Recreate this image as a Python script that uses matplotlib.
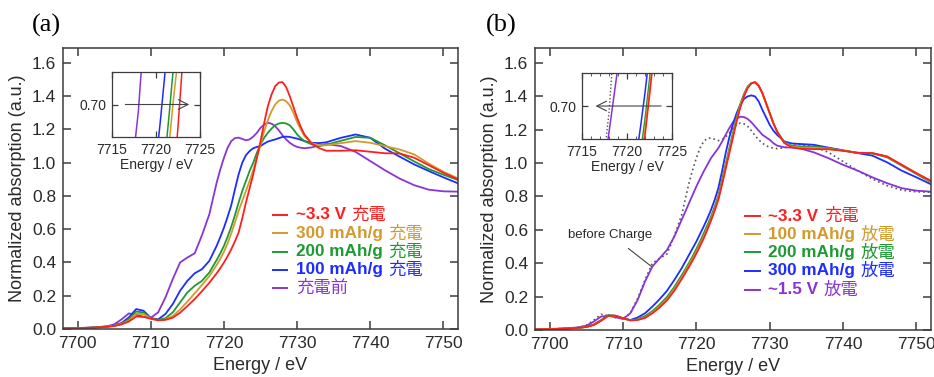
import matplotlib
matplotlib.use('Agg')
import matplotlib.pyplot as plt
from matplotlib.ticker import MultipleLocator, FormatStrFormatter

plt.rcParams['font.family'] = ['Liberation Sans', 'Noto Sans CJK JP']

# photon energy grid (eV): coarse pre-edge, half-eV across the edge/peak, coarse tail
energy = [7698, 7700, 7702, 7704, 7705, 7706, 7707, 7708, 7709, 7710,
          7711, 7712, 7713, 7714, 7715, 7716, 7717, 7718,
          7719, 7719.5, 7720, 7720.5, 7721, 7721.5, 7722, 7722.5, 7723, 7723.5,
          7724, 7724.5, 7725, 7725.5, 7726, 7726.5, 7727, 7727.5, 7728, 7728.5,
          7729, 7729.5, 7730, 7730.5, 7731,
          7732, 7733, 7734, 7736, 7738, 7740, 7742, 7744, 7746, 7748, 7750, 7752]

# before charge (purple in a, dotted in b)
before = [0.004, 0.006, 0.009, 0.016, 0.028, 0.058, 0.094, 0.086, 0.074, 0.068,
          0.10, 0.19, 0.30, 0.40, 0.43, 0.455, 0.565, 0.69,
          0.88, 0.96, 1.03, 1.09, 1.13, 1.148, 1.151, 1.143, 1.135, 1.14,
          1.157, 1.18, 1.21, 1.23, 1.24, 1.235, 1.22, 1.195, 1.165, 1.14,
          1.12, 1.105, 1.095, 1.09, 1.087,
          1.092, 1.104, 1.112, 1.10, 1.065, 1.01, 0.955, 0.905, 0.865, 0.838, 0.828, 0.826]

# (a) charge
chg_33v = [0.003, 0.005, 0.008, 0.013, 0.018, 0.028, 0.045, 0.075, 0.073, 0.062,
           0.053, 0.055, 0.068, 0.098, 0.138, 0.18, 0.228, 0.278,
           0.335, 0.366, 0.40, 0.438, 0.48, 0.527, 0.58, 0.665, 0.76, 0.845,
           0.93, 1.03, 1.13, 1.24, 1.34, 1.41, 1.46, 1.482, 1.485, 1.455,
           1.40, 1.335, 1.27, 1.215, 1.17,
           1.115, 1.088, 1.072, 1.072, 1.075, 1.066, 1.057, 1.056, 1.03, 0.985, 0.94, 0.90]
chg_300 = [0.003, 0.005, 0.008, 0.014, 0.02, 0.03, 0.05, 0.092, 0.09, 0.062,
           0.052, 0.058, 0.078, 0.117, 0.165, 0.215, 0.265, 0.318,
           0.385, 0.423, 0.465, 0.515, 0.575, 0.64, 0.71, 0.77, 0.83, 0.89,
           0.955, 1.03, 1.11, 1.19, 1.255, 1.31, 1.35, 1.373, 1.38, 1.37,
           1.345, 1.30, 1.245, 1.20, 1.16,
           1.118, 1.105, 1.105, 1.118, 1.13, 1.12, 1.10, 1.08, 1.05, 0.995, 0.945, 0.906]
chg_200 = [0.003, 0.005, 0.008, 0.014, 0.02, 0.032, 0.06, 0.105, 0.10, 0.064,
           0.055, 0.065, 0.10, 0.16, 0.22, 0.26, 0.29, 0.34,
           0.415, 0.455, 0.50, 0.555, 0.615, 0.685, 0.76, 0.83, 0.89, 0.95,
           1.0, 1.06, 1.11, 1.15, 1.18, 1.205, 1.225, 1.236, 1.24, 1.236,
           1.225, 1.20, 1.17, 1.148, 1.13,
           1.11, 1.10, 1.108, 1.132, 1.155, 1.15, 1.105, 1.057, 1.008, 0.962, 0.928, 0.896]
chg_100 = [0.003, 0.005, 0.008, 0.015, 0.022, 0.036, 0.07, 0.12, 0.11, 0.066,
           0.058, 0.09, 0.15, 0.23, 0.29, 0.335, 0.36, 0.41,
           0.50, 0.553, 0.61, 0.675, 0.745, 0.84, 0.93, 1.0, 1.045, 1.07,
           1.087, 1.095, 1.10, 1.115, 1.127, 1.134, 1.14, 1.148, 1.155, 1.157,
           1.155, 1.15, 1.145, 1.138, 1.13,
           1.12, 1.118, 1.123, 1.15, 1.17, 1.15, 1.085, 1.037, 0.99, 0.95, 0.912, 0.876]

# (b) discharge
dis_33v = [0.003, 0.005, 0.008, 0.013, 0.018, 0.03, 0.055, 0.085, 0.085, 0.07,
           0.058, 0.06, 0.072, 0.10, 0.135, 0.178, 0.235, 0.305,
           0.378, 0.417, 0.458, 0.502, 0.548, 0.60, 0.655, 0.715, 0.78, 0.87,
           0.965, 1.06, 1.155, 1.25, 1.335, 1.40, 1.45, 1.478, 1.486, 1.465,
           1.42, 1.36, 1.30, 1.24, 1.19,
           1.12, 1.095, 1.087, 1.084, 1.083, 1.074, 1.062, 1.06, 1.04, 0.99, 0.94, 0.894]
dis_100 = [0.003, 0.005, 0.008, 0.013, 0.018, 0.03, 0.056, 0.086, 0.085, 0.07,
           0.058, 0.061, 0.075, 0.105, 0.142, 0.185, 0.245, 0.315,
           0.39, 0.43, 0.47, 0.515, 0.56, 0.61, 0.665, 0.725, 0.79, 0.88,
           0.98, 1.075, 1.17, 1.26, 1.345, 1.405, 1.455, 1.478, 1.485, 1.464,
           1.42, 1.36, 1.30, 1.24, 1.19,
           1.122, 1.10, 1.093, 1.092, 1.086, 1.075, 1.062, 1.06, 1.04, 0.99, 0.94, 0.89]
dis_200 = [0.003, 0.005, 0.008, 0.013, 0.019, 0.032, 0.058, 0.088, 0.085, 0.07,
           0.058, 0.065, 0.083, 0.113, 0.152, 0.198, 0.258, 0.328,
           0.402, 0.442, 0.485, 0.53, 0.578, 0.628, 0.68, 0.74, 0.805, 0.90,
           0.995, 1.09, 1.185, 1.275, 1.355, 1.415, 1.46, 1.479, 1.483, 1.462,
           1.42, 1.36, 1.30, 1.24, 1.19,
           1.125, 1.105, 1.10, 1.10, 1.09, 1.075, 1.062, 1.058, 1.035, 0.985, 0.935, 0.885]
dis_300 = [0.003, 0.005, 0.008, 0.013, 0.019, 0.032, 0.058, 0.088, 0.085, 0.07,
           0.06, 0.075, 0.10, 0.14, 0.185, 0.235, 0.30, 0.37,
           0.45, 0.49, 0.53, 0.575, 0.62, 0.668, 0.72, 0.78, 0.85, 0.95,
           1.06, 1.155, 1.235, 1.30, 1.35, 1.385, 1.40, 1.406, 1.40, 1.37,
           1.32, 1.275, 1.23, 1.195, 1.17,
           1.13, 1.118, 1.115, 1.11, 1.093, 1.077, 1.06, 1.045, 1.005, 0.955, 0.915, 0.873]
dis_15v = [0.004, 0.006, 0.009, 0.016, 0.026, 0.05, 0.08, 0.086, 0.076, 0.066,
           0.10, 0.18, 0.29, 0.38, 0.43, 0.48, 0.56, 0.66,
           0.76, 0.81, 0.86, 0.905, 0.95, 0.99, 1.03, 1.06, 1.09, 1.128,
           1.17, 1.21, 1.245, 1.267, 1.278, 1.276, 1.265, 1.245, 1.22, 1.195,
           1.17, 1.155, 1.14, 1.12, 1.105,
           1.095, 1.093, 1.09, 1.065, 1.03, 0.99, 0.955, 0.915, 0.88, 0.85, 0.835, 0.829]

RED = '#ff1e1e'
ORANGE = '#d29a2c'
GREEN = '#1e9a32'
BLUE = '#1e2cff'
PURPLE = '#8a34d6'
DOT = '#555555'
FRAME = '#3c3c3c'

legend_a = [('~3.3 V', '充電', RED),
            ('300 mAh/g', '充電', ORANGE),
            ('200 mAh/g', '充電', GREEN),
            ('100 mAh/g', '充電', BLUE),
            ('', '充電前', PURPLE)]
legend_b = [('~3.3 V', '充電', RED),
            ('100 mAh/g', '放電', ORANGE),
            ('200 mAh/g', '放電', GREEN),
            ('300 mAh/g', '放電', BLUE),
            ('~1.5 V', '放電', PURPLE)]


def style_main(ax, ylab_x):
    ax.set_xlim(7698, 7752)
    ax.set_ylim(0, 1.69)
    ax.xaxis.set_major_locator(MultipleLocator(10))
    ax.yaxis.set_major_locator(MultipleLocator(0.2))
    ax.yaxis.set_major_formatter(FormatStrFormatter('%.1f'))
    ax.tick_params(direction='in', top=True, right=True, length=6, width=1.1,
                   color=FRAME, labelsize=12.5, labelcolor='#2a2a2a', pad=5)
    for s in ax.spines.values():
        s.set_color(FRAME)
        s.set_linewidth(1.1)
    ax.set_xlabel('Energy / eV', fontsize=13, color='#2a2a2a')
    ax.set_ylabel('Normalized absorption (a.u.)', fontsize=13, color='#2a2a2a')
    ax.xaxis.set_label_coords(0.5, -0.10)
    ax.yaxis.set_label_coords(ylab_x, 0.5)


def style_inset(ax, arrow_right):
    ax.set_xlim(7715, 7725)
    ax.set_ylim(0.65, 0.75)
    ax.set_xticks([7715, 7720, 7725])
    ax.set_yticks([0.70])
    ax.yaxis.set_major_formatter(FormatStrFormatter('%.2f'))
    ax.tick_params(direction='in', top=True, right=True, length=4, width=0.9,
                   color=FRAME, labelsize=10, labelcolor='#2a2a2a', pad=4)
    for s in ax.spines.values():
        s.set_color(FRAME)
        s.set_linewidth(0.9)
    ax.set_xlabel('Energy / eV', fontsize=10, color='#2a2a2a', labelpad=1)
    if arrow_right:
        start, end = 7716.2, 7724.1
    else:
        start, end = 7724.1, 7716.2
    ax.annotate('', xy=(end, 0.70), xytext=(start, 0.70),
                arrowprops=dict(arrowstyle='->,head_length=0.7,head_width=0.35',
                                color='#444444', lw=0.8))


def draw_legend(ax, entries, x0, x1, xt, ys):
    for (lat, cjk, col), y in zip(entries, ys):
        ax.plot([x0, x1], [y, y], color=col, lw=1.4, transform=ax.transAxes)
        if lat:
            t = ax.text(xt, y, lat, transform=ax.transAxes, color=col,
                        fontsize=12.3, fontweight='bold', va='center', ha='left')
            ax.annotate(cjk, xy=(1, 0.5), xycoords=t, xytext=(4, 0),
                        textcoords='offset points', color=col, fontsize=12.5,
                        va='center', ha='left')
        else:
            ax.text(xt, y, cjk, transform=ax.transAxes, color=col,
                    fontsize=12.5, va='center', ha='left')


fig = plt.figure(figsize=(9.34, 3.77), dpi=100)

# ---- panel (a)
ax1 = fig.add_axes([0.0675, 0.1273, 0.4229, 0.7454])
ax1.plot(energy, before, color=PURPLE, lw=1.3)
ax1.plot(energy, chg_100, color=BLUE, lw=1.3)
ax1.plot(energy, chg_200, color=GREEN, lw=1.3)
ax1.plot(energy, chg_300, color=ORANGE, lw=1.3)
ax1.plot(energy, chg_33v, color=RED, lw=1.3)
style_main(ax1, -0.095)
draw_legend(ax1, legend_a, 0.532, 0.567, 0.590,
            [0.406, 0.340, 0.275, 0.210, 0.145])

in1 = fig.add_axes([0.1199, 0.6366, 0.0942, 0.1724])
in1.plot(energy, before, color=PURPLE, lw=1.1)
in1.plot(energy, chg_100, color=BLUE, lw=1.1)
in1.plot(energy, chg_200, color=GREEN, lw=1.1)
in1.plot(energy, chg_300, color=ORANGE, lw=1.1)
in1.plot(energy, chg_33v, color=RED, lw=1.1)
style_inset(in1, True)

# ---- panel (b)
ax2 = fig.add_axes([0.5728, 0.1247, 0.424, 0.748])
ax2.plot(energy, before, color=DOT, lw=1.2, ls=(0, (1, 1.8)))
ax2.plot(energy, dis_15v, color=PURPLE, lw=1.3)
ax2.plot(energy, dis_300, color=BLUE, lw=1.3)
ax2.plot(energy, dis_200, color=GREEN, lw=1.3)
ax2.plot(energy, dis_100, color=ORANGE, lw=1.3)
ax2.plot(energy, dis_33v, color=RED, lw=1.3)
style_main(ax2, -0.093)
draw_legend(ax2, legend_b, 0.530, 0.568, 0.589,
            [0.404, 0.339, 0.275, 0.210, 0.143])
ax2.annotate('before Charge', xy=(7713.9, 0.38), xytext=(7708.3, 0.572),
             fontsize=9.5, color='#2a2a2a', ha='center', va='center',
             arrowprops=dict(arrowstyle='-', color='#444444', lw=0.8,
                             shrinkA=6, shrinkB=0))

in2 = fig.add_axes([0.6231, 0.6313, 0.0964, 0.175])
in2.plot(energy, before, color=DOT, lw=1.0, ls=(0, (1, 1.5)))
in2.plot(energy, dis_15v, color=PURPLE, lw=1.1)
in2.plot(energy, dis_300, color=BLUE, lw=1.1)
in2.plot(energy, dis_200, color=GREEN, lw=1.1)
in2.plot(energy, dis_100, color=ORANGE, lw=1.1)
in2.plot(energy, dis_33v, color=RED, lw=1.1)
style_inset(in2, False)
in2.xaxis.set_minor_locator(MultipleLocator(1))
in2.tick_params(which='minor', direction='in', top=True, length=2.5,
                color=FRAME)

fig.text(32 / 934, 1 - 25 / 377, '(a)', family='Liberation Serif',
         fontsize=19, va='center', ha='left')
fig.text(486 / 934, 1 - 25 / 377, '(b)', family='Liberation Serif',
         fontsize=19, va='center', ha='left')

fig.savefig('out.png', dpi=100)
